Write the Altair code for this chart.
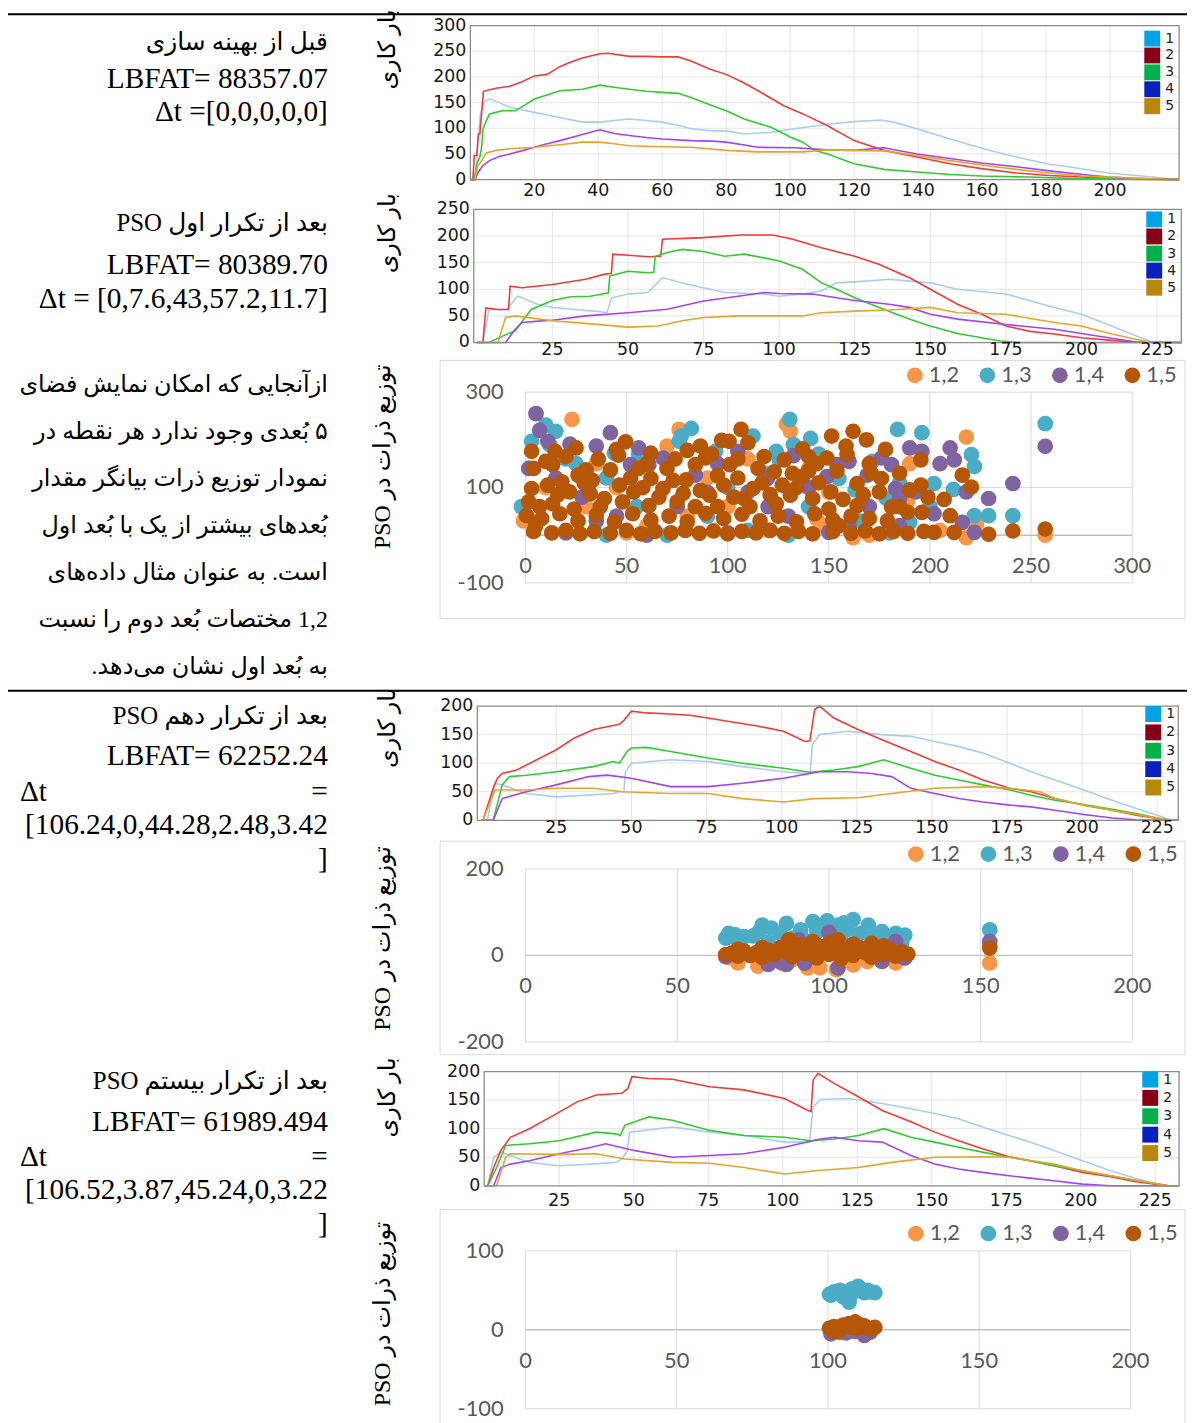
import altair as alt
import pandas as pd

# ------------------------------------------------------------------ data
SERIES = ["1", "2", "3", "4", "5"]
LINE_COLORS = ["#A9CDEE", "#EE3B3B", "#33C933", "#A045F0", "#E3A52E"]
LEGEND_COLORS = ["#00A2E8", "#880015", "#00B04A", "#0B1FBF", "#B8860B"]

PAIRS = ["1,2", "1,3", "1,4", "1,5"]
PAIR_COLORS = ["#F79646", "#4BACC6", "#8064A2", "#B65708"]

# chart 1: before optimisation
C1 = {
    "1": ([0, 1.5, 2.5, 3.1, 4.5, 6.2, 9, 12.3, 16, 20, 24, 28, 35, 40.5, 45, 49.7, 55, 60, 65, 69, 75.7, 80, 85.6, 94, 101.4, 111.7, 120, 128.3, 132.5, 139.6, 150, 160.4, 170.7, 181, 187, 199.5, 210, 218, 221.6],
          [0, 0, 83, 128, 153, 157, 150, 141, 136, 131, 126, 121, 112, 112, 115, 118, 115, 112, 106, 99, 95, 95, 89, 92, 99, 108, 113, 116, 112, 99, 79, 60, 44, 30, 25, 13, 7, 2, 1]),
    "2": ([0, 0.8, 1.2, 2.0, 2.5, 3.0, 3.5, 4.1, 8, 12.3, 16, 20, 24, 28, 31, 35, 40.5, 43, 49.7, 55, 60, 65, 69, 75, 80, 85, 90, 98, 104, 111.7, 120, 129.3, 139.6, 150, 160.4, 170.7, 181, 191.5, 200, 210, 221.6],
          [0, 0, 47, 47, 89, 89, 128, 172, 178, 182, 190, 202, 205, 220, 228, 237, 245, 246, 240, 240, 239, 239, 231, 215, 205, 190, 173, 144, 128, 105, 76, 57, 44, 31, 21, 13, 8, 5, 2, 1, 0]),
    "3": ([0, 1.2, 2, 3, 3.5, 4, 5, 6, 8, 10, 14, 17, 20, 24, 28, 35, 40.5, 45, 49.7, 55, 60, 65, 69, 75.7, 80, 85.6, 94, 100, 104, 107.6, 111.7, 120, 129.3, 139.6, 150, 160, 174, 190, 205, 221.6],
          [0, 0, 30, 45, 63, 99, 115, 128, 131, 134, 134, 145, 157, 165, 173, 176, 184, 180, 176, 172, 170, 168, 160, 144, 134, 118, 102, 83, 73, 57, 50, 31, 20, 15, 10, 7, 5, 2, 1, 0]),
    "4": ([0, 1.5, 2.5, 4, 6, 9, 12.3, 16, 20, 24, 28, 35, 40.5, 45, 49.7, 55, 60, 69, 75.7, 80, 90, 101.4, 111.7, 120, 129.3, 139.6, 150, 160.4, 170.7, 181, 191.5, 199.5, 210, 221.6],
          [0, 0, 15, 28, 37, 45, 50, 56, 63, 70, 76, 88, 97, 90, 86, 82, 79, 76, 75, 73, 63, 62, 58, 57, 62, 50, 41, 32, 25, 17, 10, 5, 2, 0]),
    "5": ([0, 1.5, 2.2, 3.5, 5, 8, 12.3, 20, 28, 35, 40.5, 45, 49.7, 60, 69, 80, 90, 104, 111.7, 120, 129.3, 139.6, 150, 160.4, 170.7, 181, 191.5, 199.5, 210, 221.6],
          [0, 0, 25, 37, 52, 57, 60, 63, 68, 73, 73, 70, 66, 64, 63, 57, 54, 54, 58, 57, 56, 47, 37, 28, 20, 13, 7, 5, 2, 0]),
}
C1_XTICKS = [20, 40, 60, 80, 100, 120, 140, 160, 180, 200]
C1_YTICKS = [0, 50, 100, 150, 200, 250, 300]

# chart 2: after first PSO iteration
C2 = {
    "1": ([0, 2, 4, 10, 13.5, 15, 20, 25, 32.7, 40.6, 43, 44.6, 50, 56.6, 61.4, 68, 75, 82, 95, 100, 107.7, 114, 119, 125, 136.4, 150, 159, 175, 191, 200, 210, 218, 222.6, 226, 233],
          [0, 0, 62, 62, 87, 84, 72, 66, 62, 58, 56, 84, 91, 94, 122, 112, 103, 94, 91, 87, 91, 97, 112, 114, 119, 112, 100, 91, 66, 53, 31, 12.5, 3, 0, 0]),
    "2": ([0, 2, 3, 7, 10.5, 11, 15, 25, 36, 42, 44.5, 45, 50, 57, 60.8, 61.4, 75, 87, 98, 104.5, 114, 125, 133, 143, 150, 159, 167, 175, 183, 191, 200, 210, 218, 233],
          [0, 0, 65, 62, 62, 106, 103, 109, 119, 128, 130, 166, 164, 161, 162, 194, 197, 202, 202, 194, 178, 162, 147, 122, 100, 72, 53, 31, 21, 16, 9, 4, 1, 0]),
    "3": ([0, 4, 8.7, 12.7, 15, 18, 25, 31, 37.5, 41.4, 43.5, 44, 50, 56.6, 58.5, 59, 63, 68, 75, 82, 88.5, 95, 100, 107.7, 114, 119, 125, 133, 143, 150, 159, 167, 173, 180, 233],
          [0, 0, 12.5, 22, 40, 62, 79, 86, 87, 91, 93, 125, 134, 131, 132, 162, 169, 175, 171, 162, 166, 159, 153, 137.5, 112, 100, 84, 66, 44, 31, 17, 9, 3, 0, 0]),
    "4": ([0, 9.5, 12.7, 15, 21.5, 25, 36, 50, 63, 75, 87, 95, 100, 111, 119, 125, 136.4, 143, 150, 159, 175, 191, 200, 210, 218, 233],
          [0, 0, 25, 37.5, 40.6, 42, 50, 56, 62.5, 78, 87.5, 94, 92, 91, 84, 79, 72, 66, 53, 44, 34, 25, 17, 8, 1, 0]),
    "5": ([0, 7, 9.5, 12.7, 25, 36, 50, 60, 68, 75, 87, 100, 107.7, 114, 125, 136.4, 150, 159, 175, 191, 200, 210, 218, 222.6, 233],
          [0, 0, 47, 50, 41, 36, 29, 31, 41, 47, 50, 50, 50, 56, 59, 61, 66, 56, 53, 37.5, 31, 16, 6, 1, 0]),
}
C2_XTICKS = [25, 50, 75, 100, 125, 150, 175, 200, 225]
C2_YTICKS = [0, 50, 100, 150, 200, 250]

# chart 4: after 10th PSO iteration
C4 = {
    "1": ([0, 2, 4.6, 7, 15, 25, 35.8, 44, 46, 47.5, 48, 50, 63, 75.5, 87, 100.6, 108.6, 109.5, 110.2, 112.6, 122, 133.4, 143, 151, 159, 167, 176, 183, 191, 200.6, 210, 218, 225, 229.4, 232],
          [0, 0, 65, 62, 47, 41, 44, 47, 50, 50, 85, 100, 106, 103, 94, 85, 82, 82, 132, 150, 156, 150, 147, 138, 129, 117.6, 100, 85, 70.6, 53, 35, 20.6, 9, 1, 0]),
    "2": ([0, 0.6, 4, 5.4, 7, 11.8, 25, 31, 37.4, 46, 47.5, 50, 55, 63, 69.4, 75.5, 82, 92, 100.6, 107.8, 109.4, 111, 112.6, 117.4, 125.4, 133.4, 143, 151, 159, 167, 176, 183, 191, 200.6, 210, 218, 225, 229.4, 232],
          [0, 0, 56, 73.5, 82, 88, 123.5, 144, 159, 168, 175, 191, 188, 186, 184, 179, 173.5, 165, 156, 138, 139, 194, 200, 179, 159, 141, 120.6, 103, 88, 70.6, 56, 50, 38, 26.5, 17.6, 9, 3, 0, 0]),
    "3": ([0, 4, 7, 9.4, 15, 25, 37.4, 44, 46, 48.6, 50, 55, 63, 75.5, 87, 100.6, 109.4, 117.4, 125.4, 134, 143, 151, 159, 167, 176, 183, 191, 200.6, 210, 218, 225, 229.4, 232],
          [0, 0, 62, 76.5, 79, 85, 94, 103, 100, 120.6, 126.5, 127.6, 120.6, 109, 100, 91, 84, 88, 94, 106, 91, 79, 70.6, 62, 53, 44, 35, 27.6, 19.4, 11.8, 4, 0, 0]),
    "4": ([0, 4, 7, 15, 25, 35.8, 42, 50, 63, 75.5, 87, 100.6, 112.6, 122, 130, 136.6, 143, 151, 159, 167, 176, 183, 191, 200.6, 210, 218, 229.4, 232],
          [0, 0, 38, 50, 62, 76.5, 79, 73.5, 59, 59, 65, 73.5, 85, 85, 82, 76.5, 56, 47, 38, 32, 26.5, 23.5, 17.6, 10, 4, 1, 0, 0]),
    "5": ([0, 0.6, 3, 4.6, 15, 25, 37.4, 47, 63, 75.5, 87, 100.6, 111, 125.4, 136.6, 151, 167, 176, 186, 191, 200.6, 210, 218, 225, 229.4, 232],
          [0, 0, 32, 53, 53, 56, 56, 50, 47, 47, 38, 32, 38, 39.4, 47, 56, 59, 56, 50, 38, 26.5, 17.6, 10, 4, 0, 0]),
}
# chart 6: after 20th PSO iteration
C6 = {
    "1": ([0, 1, 3, 5.4, 15, 25, 35.8, 44, 46, 47.8, 48.6, 55, 63, 75.5, 87, 100.6, 107.8, 109, 110.2, 112.6, 122, 133.4, 143, 151, 159, 167, 176, 183, 191, 200.6, 210, 218, 225, 229.4, 233],
          [0, 0, 50, 59, 41, 35, 38, 41, 47, 60, 94, 98, 103, 94, 88, 76.5, 76.5, 76.5, 138, 151, 153, 144, 135, 126.5, 117.6, 103, 88, 76.5, 62, 44, 26.5, 13.5, 4, 0, 0]),
    "2": ([0, 1, 3, 5.4, 8.6, 15, 25, 31, 37.4, 46, 48, 49.4, 55, 63, 75.5, 87, 100.6, 107.8, 109.5, 110.2, 111.8, 117.4, 125.4, 133.4, 143, 151, 159, 167, 176, 183, 191, 200.6, 210, 218, 225, 229.4, 233],
          [0, 0, 32, 62, 85, 100, 129, 147, 159, 162, 170, 191, 188, 186.5, 173.5, 168, 153, 133.5, 130, 185, 197, 179, 156, 132, 112, 94, 79, 65, 51, 44, 35, 23.5, 16, 7.6, 3, 0, 0]),
    "3": ([0, 1, 4, 7, 15, 25, 37.4, 44, 45.5, 47, 55, 63, 75.5, 87, 100.6, 109.4, 117.4, 125.4, 134, 143, 151, 159, 167, 176, 183, 191, 200.6, 210, 218, 225, 229.4, 233],
          [0, 0, 32, 70.6, 73.5, 79, 94, 91, 88, 106, 120.6, 114.7, 97, 88, 85, 79, 82, 88, 100, 85, 76.5, 67.6, 59, 50, 44, 35, 26.5, 17.6, 10, 4, 0, 0]),
    "4": ([0, 3, 5.4, 8.6, 15, 25, 35.8, 40.6, 50, 63, 75.5, 87, 100.6, 112.6, 117.4, 125.4, 133.4, 143, 151, 159, 167, 176, 183, 191, 200.6, 210, 233],
          [0, 0, 32, 38, 44, 56, 67.6, 73.5, 62, 50, 53, 56, 67.6, 82, 85, 79, 76.5, 53, 38, 29.4, 23.5, 17.6, 13.5, 9, 3, 0, 0]),
    "5": ([0, 4, 7, 8.6, 25, 37.4, 47, 63, 75.5, 87, 100.6, 111, 125.4, 136.6, 151, 167, 176, 191, 200.6, 210, 218, 225, 229.4, 233],
          [0, 0, 50, 56, 55, 56, 47, 41, 39.4, 32, 20.6, 26.5, 32, 41, 50, 51, 50, 38, 26.5, 17.6, 10, 4, 0, 0]),
}
C46_XTICKS = [25, 50, 75, 100, 125, 150, 175, 200, 225]
C46_YTICKS = [0, 50, 100, 150, 200]

# chart 3: particle distribution after first iteration
P3 = {
    "1,2": [(23, 243), (76, 222), (70, 187), (129, 233), (131, 218), (218, 206), (257, 0), (162, -5), (218, -5), (144, 34), (148, 20), (-1, 30), (223, 23), (189, 73), (35, 150), (100, 60), (60, 20), (120, 10), (10, 100), (50, 5), (90, 120), (150, 90), (190, 150), (205, 10), (170, 0), (30, 60), (80, 40), (110, 160), (140, 140), (45, 100)],
    "1,3": [(10, 231), (15, 218), (3, 197), (44, 172), (56, 169), (77, 208), (82, 224), (76, 197), (112.5, 208), (94, 176), (130.7, 243), (132.5, 190), (141, 203), (125.5, 158), (124, 176), (184, 222), (196, 215), (220.5, 169), (222, 144), (211.6, 96), (202, 108.5), (229, 41), (241, 41), (257, 234), (222, 41), (190, 27), (155, 119), (171.5, 155), (178.5, 77), (20, 160), (30, 130), (-2, 60), (60, 150), (100, 100), (140, 60), (165, 30), (110, 10), (70, 0), (40, 0), (90, 40), (200, 60), (185, 110), (12, 190), (25, 150), (145, 170), (118, 130), (163, 95), (40, 120), (2, 140), (180, 5), (130, 0), (55, 60)],
    "1,4": [(5.2, 255), (7, 220), (11, 197), (22, 191), (35, 187), (42, 215), (56, 183), (105, 176), (132.5, 167), (154, 148), (176, 162), (181, 148), (190, 183), (196, 176), (210, 183), (212, 158), (218, 91), (241, 108.5), (229, 77), (257, 186.5), (202, 45), (222, 6), (216, 27), (150, 6), (1.6, 140), (52, 148), (61, 148), (68, 162), (84, 126), (119.6, 119), (149, 123), (160, 155), (169, 126), (183, 98), (185, 77), (193, 91), (15, 120), (28, 80), (45, 40), (75, 60), (95, 150), (110, 90), (130, 40), (170, 60), (140, 100), (100, 5), (60, 0), (20, 5), (185, 20), (205, 150), (160, 20), (120, 60), (90, 90), (35, 30)],
    "1,5": [(3, 176), (25, 183), (49.5, 196), (86.5, 187), (97, 199), (100.7, 197), (106.6, 222), (110, 194), (137, 181), (151.4, 208), (162, 218), (168.6, 200), (158.5, 187), (159, 169), (149, 162), (195.5, 158), (216, 126), (220.5, 101), (229, 2), (241, 9), (257, 13), (210, 41), (212, 6), (202, 6), (195.5, 105), (196, 48), (189, 48), (181, 59), (175, 91), (176, 119), (164, 108.5), (164, 62), (151, 91), (150, 55), (142, 77), (137, 123), (131, 84), (132, 130), (123, 133), (124, 66), (115, 140), (112.5, 98), (108, 77), (101, 148), (98, 105), (91, 84), (89, 162), (84, 148), (86.5, 94), (79.5, 116), (75, 70), (70, 140), (68, 98), (62, 119), (61, 62), (56, 140), (53.5, 91), (46.5, 105), (42, 137), (39, 77), (32, 87), (30, 137), (26, 126), (21.7, 91), (18, 112), (14.6, 176), (13.4, 148), (10, 155), (11, 105), (13.4, 66), (4, 140), (3, 98), (1.6, 70), (0.5, 41), (5, 20),
            (4, 8), (13, 5), (20, 10), (27, 3), (34, 8), (42, 4), (50, 10), (57, 3), (64, 8), (72, 5), (79, 10), (86, 4), (93, 9), (100, 3), (107, 8), (114, 5), (121, 10), (128, 4), (135, 8), (142, 3), (152, 8), (161, 4), (168, 9), (175, 3), (182, 8), (189, 4), (197, 8),
            (8, 35), (17, 45), (26, 30), (35, 42), (44, 28), (53, 45), (62, 32), (71, 40), (80, 28), (89, 46), (98, 35), (107, 44), (116, 30), (125, 40), (134, 28), (143, 45), (152, 32), (161, 40), (170, 35), (179, 30),
            (20, 165), (36, 160), (46, 168), (62, 172), (74, 160), (92, 170), (118, 165), (128, 158), (144, 150), (170, 150),
            (7, 60), (16, 85), (24, 55), (29, 110), (37, 60), (48, 70), (52, 120), (58, 100), (66, 80), (73, 115), (78, 88), (84, 60), (95, 125), (103, 80), (105, 120), (111, 60), (117, 110), (121, 85), (127, 105), (134, 100), (140, 135), (145, 110), (154, 135), (157, 75), (167, 85), (171, 130), (185, 130), (190, 95), (199, 80), (207, 75), (45, 180), (80, 178), (105, 160), (140, 165), (178, 180), (33, 115), (60, 150), (95, 60), (155, 20), (185, 60)],
}
P3_XTICKS = [0, 50, 100, 150, 200, 250, 300]
P3_YTICKS = [300, 100, -100]

# chart 5: particle distribution after 10th iteration
P5 = {
    "1,2": [(70, -17.5), (76.6, -25), (93, -29), (97, -29), (102.5, -33), (122, -17.5), (153, -17.5), (112.7, -14), (67, -5), (85, -20), (108, -22), (118, -10), (88, -10), (125, -5)],
    "1,3": [(67, 51), (72, 43.5), (78, 70), (81, 63), (86, 74), (90.7, 59), (94.7, 78), (99.4, 80), (103, 70), (108, 83), (112.7, 59), (117.5, 55), (122, 51), (125, 47), (153, 59), (66, 40), (70, 35), (75, 45), (84, 50), (88, 40), (96, 55), (101, 45), (106, 60), (110, 50), (115, 42), (120, 38), (124, 30), (80, 30), (92, 35), (104, 38), (69, 48), (77, 55), (98, 62), (113, 70), (105, 75)],
    "1,4": [(100, 53), (90, 36), (122, 32), (153, 32), (153, 21), (80, -21), (86, -21), (103, -29), (117.5, -14), (125, -6), (70, 5), (95, 10), (110, 15), (66, -3), (84, -15), (92, -18)],
    "1,5": [(66, 2), (68, 5), (70, -2), (72, 10), (74, 0), (76, 6), (78, -5), (80, 12), (82, 2), (84, 18), (86, 8), (86.8, 36), (88, -3), (90, 15), (92, 4), (94.7, 32), (94, 20), (96, -6), (98, 10), (100, 2), (102, 22), (103, 36), (104, -8), (106, 12), (108, 0), (110, 18), (112, 6), (114, 28), (114, -4), (116, 10), (118, 2), (120, 14), (122, -2), (124, 8), (126, 3), (153, 17), (78, 18), (90, 25), (100, 28), (108, 26), (118, 22), (70, 14), (96, 24), (88, 12)],
}
P5_XTICKS = [0, 50, 100, 150, 200]
P5_YTICKS = [200, 0, -200]

# chart 7: particle distribution after 20th iteration
P7 = {
    "1,2": [(102, 0), (106, -2), (110, 1), (113, -1)],
    "1,3": [(100.5, 45), (101, 44), (102, 48), (103, 46), (104, 50), (105, 42), (106, 47), (107, 38), (108, 52), (109, 49), (110, 55), (111, 50), (112, 47), (113, 50), (114, 48), (115.5, 47), (107, 35)],
    "1,4": [(101, -5), (104, -3), (106, -4), (109, -2), (112, -7), (114, -3), (102, -1)],
    "1,5": [(100.5, 2), (101.5, -1), (102, 4), (103, -2), (104, 0), (105, 6), (106, 5), (107, 8), (108, 3), (109, 10), (110, 2), (111, 6), (112, 5), (113, 2), (114, 1), (115.5, 3)],
}
P7_XTICKS = [0, 50, 100, 150, 200]
P7_YTICKS = [100, 0, -100]

# texts
ROW1_FA = "قبل از بهینه سازی"
ROW1_LAT = ["LBFAT= 88357.07", "Δt =[0,0,0,0,0]"]
ROW2_FA = "بعد از تکرار اول PSO"
ROW2_LAT = ["LBFAT= 80389.70", "Δt = [0,7.6,43,57.2,11.7]"]
PARAGRAPH = [
    "ازآنجایی که امکان نمایش فضای",
    "۵ بُعدی وجود ندارد هر نقطه در",
    "نمودار توزیع ذرات بیانگر مقدار",
    "بُعدهای بیشتر از یک با بُعد اول",
    "است.  به  عنوان  مثال  داده‌های",
    "1,2  مختصات بُعد دوم را نسبت",
    "به بُعد اول نشان می‌دهد.",
]
ROW3_FA = "بعد از تکرار دهم PSO"
ROW3_LAT = ["LBFAT= 62252.24", "=", "[106.24,0,44.28,2.48,3.42", "]"]
ROW4_FA = "بعد از تکرار بیستم PSO"
ROW4_LAT = ["LBFAT= 61989.494", "=", "[106.52,3.87,45.24,0,3.22", "]"]
DT = "Δt"
LABEL_LOAD = "بار کاری"
LABEL_DIST = "توزیع ذرات در PSO"

# ------------------------------------------------------------------ layout
W, H = 1187, 1415
OX, OY = 8, 8
TICK_FONT = "DejaVu Sans"
SC_FONT = "Lato"
SERIF = "Liberation Serif, DejaVu Sans"
FA_FONT = "Liberation Serif, DejaVu Sans"
GRID = "#E4E4E4"
PT_SIZE = 250


def rtl(s):
    return "\u202b" + s + "\u202c"


def sx_(x0, k):
    return alt.Scale(domain=[(OX - x0) / k, (OX + W - x0) / k], nice=False, zero=False)


def sy_(y0, k):
    return alt.Scale(domain=[(y0 - OY - H) / k, (y0 - OY) / k], nice=False, zero=False)


def line_panel(series, x0, kx, y0, ky, xlo, xhi, ymax, xticks, yticks, lab_dy, leg_x, leg_y, leg_pad):
    sx, sy = sx_(x0, kx), sy_(y0, ky)

    def X(f):
        return alt.X(f, scale=sx, axis=None)

    def Y(f):
        return alt.Y(f, scale=sy, axis=None)

    rows = []
    for s, col in zip(SERIES, LINE_COLORS):
        xs, ys = series[s]
        for a, b in zip(xs, ys):
            rows.append({"x": a, "y": b, "s": s, "c": col})
    df = pd.DataFrame(rows)
    vg = pd.DataFrame({"t": xticks, "lo": [0] * len(xticks), "hi": [ymax] * len(xticks)})
    hy = [t for t in yticks if 0 < t < ymax]
    hg = pd.DataFrame({"t": hy, "lo": [xlo] * len(hy), "hi": [xhi] * len(hy)})
    fr = pd.DataFrame({"x1": [xlo], "x2": [xhi], "y1": [0], "y2": [ymax]})
    xl = pd.DataFrame({"t": xticks, "b": [0] * len(xticks), "lab": [str(t) for t in xticks]})
    yl = pd.DataFrame({"t": yticks, "b": [xlo] * len(yticks), "lab": [str(t) for t in yticks]})

    grid_v = alt.Chart(vg).mark_rule(color=GRID, strokeWidth=1).encode(x=X("t:Q"), y=Y("lo:Q"), y2=alt.Y2("hi"))
    grid_h = alt.Chart(hg).mark_rule(color=GRID, strokeWidth=1).encode(y=Y("t:Q"), x=X("lo:Q"), x2=alt.X2("hi"))
    lines = alt.Chart(df).mark_line(strokeWidth=1.6).encode(
        x=X("x:Q"), y=Y("y:Q"), stroke=alt.Stroke("c:N", scale=None), detail="s:N")
    frame = alt.Chart(fr).mark_rect(fillOpacity=0, stroke="#8C8C8C", strokeWidth=1.3).encode(
        x=X("x1:Q"), x2=alt.X2("x2"), y=Y("y1:Q"), y2=alt.Y2("y2"))
    xlab = alt.Chart(xl).mark_text(font=TICK_FONT, fontSize=17.5, color="#1A1A1A", align="center",
                                   baseline="middle", dy=lab_dy).encode(x=X("t:Q"), y=Y("b:Q"), text="lab:N")
    ylab = alt.Chart(yl).mark_text(font=TICK_FONT, fontSize=17.5, color="#1A1A1A", align="right",
                                   baseline="middle", dx=-4).encode(x=X("b:Q"), y=Y("t:Q"), text="lab:N")
    legend = alt.Chart(pd.DataFrame({"s": SERIES})).mark_square(opacity=0).encode(
        color=alt.Color("s:N", scale=alt.Scale(domain=SERIES, range=LEGEND_COLORS),
                        legend=alt.Legend(orient="none", legendX=leg_x - OX, legendY=leg_y - OY, title=None,
                                          direction="vertical", symbolType="square", symbolSize=256,
                                          symbolOpacity=1, symbolStrokeWidth=0, labelFont=TICK_FONT,
                                          labelFontSize=14, labelColor="#222222", labelOffset=5,
                                          rowPadding=leg_pad, padding=0)))
    return alt.layer(grid_v, grid_h, lines, frame, xlab, ylab, legend)


def scatter_panel(points, x0, kx, y0, ky, xmax, ymin, ymax, xticks, yticks, box, leg_x, leg_y):
    sx, sy = sx_(x0, kx), sy_(y0, ky)

    def X(f):
        return alt.X(f, scale=sx, axis=None)

    def Y(f):
        return alt.Y(f, scale=sy, axis=None)

    rows = []
    for s in PAIRS:
        for a, b in points[s]:
            rows.append({"x": a, "y": b, "s": s})
    df = pd.DataFrame(rows)
    bx1, by1, bx2, by2 = box
    boxc = alt.Chart(pd.DataFrame({"a": [0]})).mark_rect(fillOpacity=0, stroke="#D9D9D9", strokeWidth=1).encode(
        x=alt.value(bx1 - OX), x2=alt.value(bx2 - OX), y=alt.value(by1 - OY), y2=alt.value(by2 - OY))
    vg = pd.DataFrame({"t": xticks, "lo": [ymin] * len(xticks), "hi": [ymax] * len(xticks)})
    hy = [t for t in yticks if t != 0]
    hg = pd.DataFrame({"t": hy, "lo": [0] * len(hy), "hi": [xmax] * len(hy)})
    ax = pd.DataFrame({"t": [0], "lo": [0], "hi": [xmax]})
    xl = pd.DataFrame({"t": xticks, "b": [0] * len(xticks), "lab": [str(t) for t in xticks]})
    yl = pd.DataFrame({"t": yticks, "b": [0] * len(yticks), "lab": [str(t) for t in yticks]})

    grid_v = alt.Chart(vg).mark_rule(color="#D9D9D9", strokeWidth=1).encode(x=X("t:Q"), y=Y("lo:Q"), y2=alt.Y2("hi"))
    grid_h = alt.Chart(hg).mark_rule(color="#D9D9D9", strokeWidth=1).encode(y=Y("t:Q"), x=X("lo:Q"), x2=alt.X2("hi"))
    axis = alt.Chart(ax).mark_rule(color="#BFBFBF", strokeWidth=1.5).encode(y=Y("t:Q"), x=X("lo:Q"), x2=alt.X2("hi"))
    xlab = alt.Chart(xl).mark_text(font=SC_FONT, fontSize=22, color="#595959", align="center",
                                   baseline="middle", dy=31).encode(x=X("t:Q"), y=Y("b:Q"), text="lab:N")
    ylab = alt.Chart(yl).mark_text(font=SC_FONT, fontSize=22, color="#595959", align="right",
                                   baseline="middle", dx=-22).encode(x=X("b:Q"), y=Y("t:Q"), text="lab:N")
    pts = alt.Chart(df).mark_circle(size=PT_SIZE, opacity=1).encode(
        x=X("x:Q"), y=Y("y:Q"),
        color=alt.Color("s:N", scale=alt.Scale(domain=PAIRS, range=PAIR_COLORS),
                        legend=alt.Legend(orient="none", legendX=leg_x - OX, legendY=leg_y - OY, title=None,
                                          direction="horizontal", symbolType="circle", symbolSize=PT_SIZE,
                                          symbolOpacity=1, symbolStrokeWidth=0, labelFont=SC_FONT,
                                          labelFontSize=22, labelColor="#595959", labelOffset=3,
                                          columnPadding=17, padding=0)))
    return alt.layer(boxc, grid_v, grid_h, axis, pts, xlab, ylab)


def text_layer(texts, ys, x, align, size, font, angle=0):
    df = pd.DataFrame({"t": texts, "px": [x - OX] * len(texts), "py": [y - OY for y in ys]})
    return alt.Chart(df).mark_text(align=align, baseline="middle", fontSize=size, font=font,
                                   color="black", angle=angle).encode(
        x=alt.X("px:Q", scale=None), y=alt.Y("py:Q", scale=None), text="t:N")


panels = [
    line_panel(C1, 473.5, 3.22, 176, 0.517, 0, 221.6, 300, C1_XTICKS, C1_YTICKS, 11, 1152, 26, 1),
    line_panel(C2, 480, 3.044, 340, 0.536, -1, 233, 250, C2_XTICKS, C2_YTICKS, 8, 1154, 208, 1.2),
    scatter_panel(P3, 529, 2.036, 534, 0.48, 300, -100, 300, P3_XTICKS, P3_YTICKS, (443, 358, 1193, 618), 910, 362),
    line_panel(C4, 484.4, 3.025, 821, 0.575, -1.3, 232, 200, C46_XTICKS, C46_YTICKS, 8, 1153, 706, 2.5),
    scatter_panel(P5, 529, 3.055, 957, 0.435, 200, -200, 200, P5_XTICKS, P5_YTICKS, (443, 842, 1193, 1057), 911, 844),
    line_panel(C6, 488, 3.0, 1189, 0.575, -0.2, 233, 200, C46_XTICKS, C46_YTICKS, 15, 1150, 1074, 2.5),
    scatter_panel(P7, 529, 3.045, 1334, 0.795, 200, -100, 100, P7_XTICKS, P7_YTICKS, (443, 1213, 1193, 1440), 911, 1226),
]

RX = 330
fa_heads = text_layer([rtl(ROW1_FA), rtl(ROW2_FA), rtl(ROW3_FA), rtl(ROW4_FA)], [37, 220, 716, 1084],
                      RX, "right", 25, FA_FONT)
latin = text_layer(ROW1_LAT + ROW2_LAT + ROW3_LAT + ROW4_LAT,
                   [75, 108, 262, 296, 756, 793, 826, 860, 1125, 1160, 1193, 1228], RX, "right", 29.5, SERIF)
dts = text_layer([DT, DT], [793, 1160], 20, "left", 29.5, SERIF)
para = text_layer([rtl(p) for p in PARAGRAPH], [383 + i * 47.3 for i in range(len(PARAGRAPH))],
                  RX, "right", 24, FA_FONT)
rot_load = text_layer([rtl(LABEL_LOAD)] * 4, [45, 230, 728, 1100], 391, "center", 24, FA_FONT, angle=270)
rot_dist = text_layer([rtl(LABEL_DIST)] * 3, [455, 940, 1318], 386, "center", 24, FA_FONT, angle=270)

hrules = alt.Chart(pd.DataFrame({"a": [0]})).mark_rule(color="black", strokeWidth=2).encode(
    x=alt.value(0), x2=alt.value(W), y=alt.value(9.5 - OY))
hrule2 = alt.Chart(pd.DataFrame({"a": [0]})).mark_rule(color="black", strokeWidth=2).encode(
    x=alt.value(0), x2=alt.value(W), y=alt.value(690.5 - OY))

chart = alt.layer(*panels, fa_heads, latin, dts, para, rot_load, rot_dist, hrules, hrule2).resolve_scale(
    x="independent", y="independent", color="independent"
).resolve_legend(color="independent").properties(
    width=W, height=H, padding=0, autosize=alt.AutoSizeParams(type="none"), background="white"
).configure_view(stroke=None)

chart.save("out.html", embed_options={"renderer": "svg", "actions": False})
